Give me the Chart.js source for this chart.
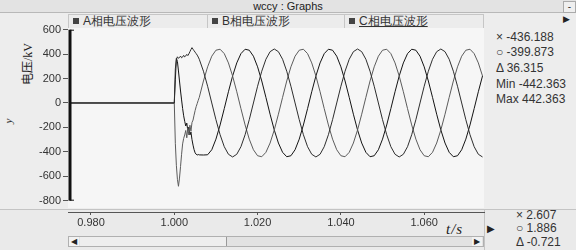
<!DOCTYPE html>
<html>
<head>
<meta charset="utf-8">
<script src="https://cdn.jsdelivr.net/npm/chart.js@4.4.1/dist/chart.umd.min.js"></script>
<style>
  html, body { margin: 0; padding: 0; }
  body { width: 576px; height: 250px; background: #ededed; position: relative; overflow: hidden;
         font-family: "Liberation Sans", Arial, sans-serif; color: #333; }
  .abs { position: absolute; white-space: nowrap; }
  #titlebar { left: 0; top: 0; width: 576px; height: 12px; background: #e3e3e3; border-bottom: 1px solid #b8b8b8;
              font-size: 11px; line-height: 12px; text-align: center; color: #222; }
  #minbtn { left: 563px; top: 1px; width: 11px; height: 10px; border: 1px solid #aaa; background: #efefef;
            font-size: 10px; line-height: 9px; text-align: center; }
  .cell { top: 14px; height: 13px; border: 1px solid #c6c6c6; background: #ececec; font-size: 12px; line-height: 13px; color: #333; }
  .cell .sq { display: inline-block; width: 6px; height: 6px; background: #444; margin: 0 4px 1px 4px; vertical-align: middle; }
  .val { font-size: 12px; line-height: 12px; color: #333; }
  #ylab { left: 27px; top: 64px; font-family: "Liberation Serif", "Noto Sans CJK SC", serif; font-size: 12px;
          transform: translate(-50%, -50%) rotate(-90deg); color: #222; }
  #ysmall { left: 8px; top: 121px; font-family: "Liberation Serif", serif; font-style: italic; font-size: 11px;
            transform: translate(-50%, -50%) rotate(-90deg); color: #333; }
  #xlab { left: 446px; top: 221px; font-family: "Liberation Serif", serif; font-style: italic; font-size: 15px; color: #222; letter-spacing: 1px; }
  #bottom { left: 0; top: 209px; width: 576px; height: 41px; background: #eaeaea; border-top: 1px solid #c4c4c4; }
  #vsep { left: 484px; top: 209px; width: 1px; height: 41px; background: #c4c4c4; }
  #scroll { left: 68px; top: 236px; width: 414px; height: 9px; border: 1px solid #b0b0b0; background: #e2e2e2; }
  #thumb { left: 80px; top: 237px; width: 146px; height: 9px; background: #eeeeee; border-right: 1px solid #999; }
  .sbtn { top: 237px; width: 10px; height: 9px; font-size: 8px; line-height: 9px; text-align: center; color: #222; background: #f2f2f2; }
  canvas { position: absolute; left: 0; top: 0; }
</style>
</head>
<body>
<div id="bottom" class="abs"></div>
<div id="vsep" class="abs"></div>
<div id="scroll" class="abs"></div>
<div id="thumb" class="abs"></div>
<div class="abs sbtn" style="left:69px">&#9664;</div>
<div class="abs sbtn" style="left:472px">&#9654;</div>
<div id="titlebar" class="abs">wccy : Graphs</div>
<div id="minbtn" class="abs">-</div>
<div class="abs" style="left:563px;top:14px;font-size:9px;color:#222">&#9654;</div>
<div id="legend"></div>
<div class="abs val" style="left:496px;top:31px">&#215; -436.188</div>
<div class="abs val" style="left:496px;top:46px">&#9675; -399.873</div>
<div class="abs val" style="left:496px;top:62px">&#916; 36.315</div>
<div class="abs val" style="left:496px;top:78px">Min -442.363</div>
<div class="abs val" style="left:496px;top:93px">Max 442.363</div>
<div class="abs val" style="left:516px;top:209px">&#215; 2.607</div>
<div class="abs val" style="left:516px;top:222px">&#9675; 1.886</div>
<div class="abs val" style="left:516px;top:236px">&#916; -0.721</div>
<div class="abs" style="left:487px;top:223px;font-size:10px;color:#222">&#9654;</div>
<div id="ylab" class="abs">电压/kV</div>
<div id="ysmall" class="abs">y</div>
<div id="xlab" class="abs">t/s</div>
<canvas id="c" width="576" height="250"></canvas>
<script>
// series names (legend)
const seriesNames = ["A相电压波形", "B相电压波形", "C相电压波形"];
const lineColors = ["#2e2e2e", "#5c5c5c", "#141414"];

// time axis, s
const times = [
  0.975, 1.000,
  1.00025, 1.0005, 1.00075, 1.001, 1.00125, 1.0015, 1.00175, 1.002,
  1.00225, 1.0025, 1.00275, 1.003, 1.00325, 1.0035, 1.00375, 1.004,
  1.00425, 1.0045, 1.00475, 1.005, 1.00525, 1.0055, 1.00575, 1.006,
  1.007, 1.008, 1.009, 1.010, 1.011, 1.012, 1.013, 1.014, 1.015, 1.016,
  1.017, 1.018, 1.019, 1.020, 1.021, 1.022, 1.023, 1.024, 1.025, 1.026,
  1.027, 1.028, 1.029, 1.030, 1.031, 1.032, 1.033, 1.034, 1.035, 1.036,
  1.037, 1.038, 1.039, 1.040, 1.041, 1.042, 1.043, 1.044, 1.045, 1.046,
  1.047, 1.048, 1.049, 1.050, 1.051, 1.052, 1.053, 1.054, 1.055, 1.056,
  1.057, 1.058, 1.059, 1.060, 1.061, 1.062, 1.063, 1.064, 1.065, 1.066,
  1.067, 1.068, 1.069, 1.070, 1.071, 1.072, 1.073, 1.074
];

// phase voltages, kV
const phaseA = [
  0, 0,
  280, 355, 378, 366, 372, 384, 370, 376,
  390, 378, 385, 398, 388, 402, 420, 438,
  453, 440, 428, 416, 404, 392, 376, 358,
  260, 137, 0, -137, -260, -358, -420, -442, -420, -358,
  -260, -137, 0, 137, 260, 358, 420, 442, 420, 358,
  260, 137, 0, -137, -260, -358, -420, -442, -420, -358,
  -260, -137, 0, 137, 260, 358, 420, 442, 420, 358,
  260, 137, 0, -137, -260, -358, -420, -442, -420, -358,
  -260, -137, 0, 137, 260, 358, 420, 442, 420, 358,
  260, 137, 0, -137, -260, -358, -420, -442
];
const phaseB = [
  0, 0,
  -330, -510, -625, -682, -615, -520, -420, -335,
  -290, -262, -225, -285, -205, -262, -182, -232,
  -160, -140, -100, -62, -30, -5, 22, 46,
  180, 296, 383, 432, 440, 404, 328, 221, 92, -46,
  -180, -296, -383, -432, -440, -404, -328, -221, -92, 46,
  180, 296, 383, 432, 440, 404, 328, 221, 92, -46,
  -180, -296, -383, -432, -440, -404, -328, -221, -92, 46,
  180, 296, 383, 432, 440, 404, 328, 221, 92, -46,
  -180, -296, -383, -432, -440, -404, -328, -221, -92, 46,
  180, 296, 383, 432, 440, 404, 328, 221
];
const phaseC = [
  0, 0,
  190, 365, 340, 262, 180, 98, 25, -45,
  -105, -150, -188, -165, -228, -198, -262, -238,
  -300, -345, -382, -408, -420, -426, -422, -425,
  -426, -424, -383, -296, -180, -46, 92, 221, 328, 404,
  440, 432, 383, 296, 180, 46, -92, -221, -328, -404,
  -440, -432, -383, -296, -180, -46, 92, 221, 328, 404,
  440, 432, 383, 296, 180, 46, -92, -221, -328, -404,
  -440, -432, -383, -296, -180, -46, 92, 221, 328, 404,
  440, 432, 383, 296, 180, 46, -92, -221, -328, -404,
  -440, -432, -383, -296, -180, -46, 92, 221
];

// tick labels
const xTicks = [0.98, 1.00, 1.02, 1.04, 1.06];
const yTicks = [-800, -600, -400, -200, 0, 200, 400, 600];

// legend cells above the plot
const legendLeft = [68, 207, 344];
const legendRight = [207, 344, 483];
const legendEl = document.getElementById("legend");
seriesNames.forEach((name, i) => {
  const d = document.createElement("div");
  d.className = "abs cell";
  d.style.left = legendLeft[i] + "px";
  d.style.width = (legendRight[i] - legendLeft[i] - 1) + "px";
  d.innerHTML = '<span class="sq"></span>' + (i === 2 ? '<u>' + name + '</u>' : name);
  legendEl.appendChild(d);
});

const pts = vals => times.map((t, i) => ({ x: t, y: vals[i] }));

// plot background + thick y spine
const frame = {
  id: "frame",
  beforeDatasetsDraw(chart) {
    const { ctx, chartArea: a } = chart;
    ctx.save();
    ctx.fillStyle = "#f6f6f6";
    ctx.fillRect(a.left, a.top, a.right - a.left, a.bottom - a.top - 4);
    ctx.restore();
  },
  afterDatasetsDraw(chart) {
    const { ctx, chartArea: a, scales: { y } } = chart;
    const top = y.getPixelForValue(600), bot = y.getPixelForValue(-800);
    ctx.save();
    ctx.strokeStyle = "#111";
    ctx.lineWidth = 3;
    ctx.beginPath();
    ctx.moveTo(a.left + 2, top);
    ctx.lineTo(a.left + 2, bot);
    ctx.stroke();
    ctx.lineWidth = 1;
    ctx.beginPath();
    ctx.moveTo(a.left + 2, top + 0.5); ctx.lineTo(a.left + 6, top + 0.5);
    ctx.moveTo(a.left + 2, bot - 0.5); ctx.lineTo(a.left + 6, bot - 0.5);
    ctx.stroke();
    ctx.restore();
  }
};

const tickFont = { family: "'Liberation Sans', Arial, sans-serif", size: 11 };

new Chart(document.getElementById("c"), {
  type: "line",
  data: {
    datasets: seriesNames.map((name, i) => ({
      label: name,
      data: pts([phaseA, phaseB, phaseC][i]),
      borderColor: lineColors[i],
      borderWidth: 1,
      pointRadius: 0,
      tension: 0,
      fill: false
    }))
  },
  options: {
    responsive: false,
    animation: false,
    layout: { padding: { left: 0, top: 28, right: 92, bottom: 18 } },
    plugins: { legend: { display: false }, tooltip: { enabled: false } },
    scales: {
      x: {
        type: "linear",
        min: 0.97448,
        max: 1.07436,
        afterBuildTicks: s => { s.ticks = xTicks.map(v => ({ value: v })); },
        afterFit: s => { s.height = 20; },
        ticks: { callback: v => v.toFixed(3), font: tickFont, color: "#333", padding: 1, maxRotation: 0, autoSkip: false },
        grid: { drawOnChartArea: false, drawTicks: true, tickLength: 3, color: "#555" },
        border: { display: true, color: "#555", width: 1 }
      },
      y: {
        min: -892.6,
        max: 613.9,
        afterBuildTicks: s => { s.ticks = yTicks.map(v => ({ value: v })); },
        afterFit: s => { s.width = 68; },
        ticks: { font: tickFont, color: "#333", padding: 2 },
        grid: { drawOnChartArea: false, drawTicks: true, tickLength: 5, color: "#555" },
        border: { display: false }
      }
    }
  },
  plugins: [frame]
});
</script>
</body>
</html>
